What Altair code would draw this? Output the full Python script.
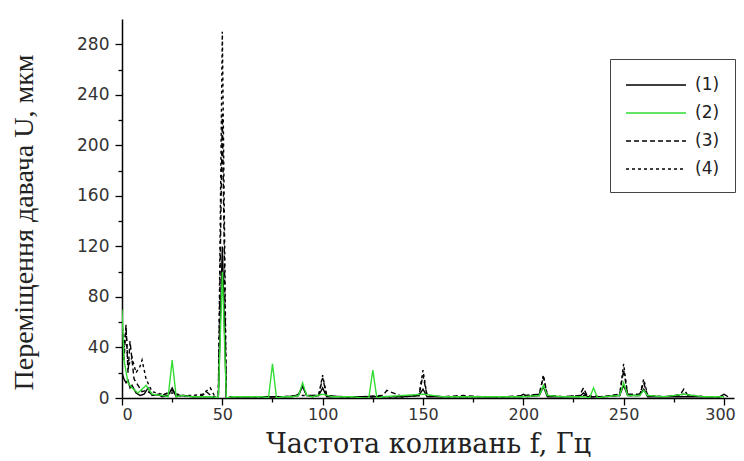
import altair as alt
import pandas as pd

series_names = ["(1)", "(2)", "(3)", "(4)"]

f1 = [0, 1, 2, 3, 4, 5, 7, 9, 11, 13, 15, 18, 20, 23, 25, 27, 30, 35, 40, 45, 48, 50, 52, 55, 60, 70, 80, 85, 88, 90,
      92, 95, 98, 100, 102, 105, 110, 120, 130, 140, 148, 150, 152, 160, 170, 180, 190, 198, 200, 202, 208, 210, 212,
      220, 228, 230, 232, 240, 248, 250, 252, 258, 260, 262, 270, 280, 290, 298, 300, 302]
u1 = [20, 15, 12, 14, 8, 10, 4, 2, 3, 8, 2, 3, 1, 2, 8, 1, 2, 1, 1, 1, 0, 120, 0, 1, 1, 1, 1, 1, 3, 9,
      2, 1, 2, 8, 1, 1, 1, 1, 1, 1, 2, 7, 1, 1, 1, 1, 1, 1, 3, 1, 2, 9, 1,
      1, 1, 4, 1, 1, 2, 10, 2, 2, 7, 1, 1, 1, 1, 1, 3, 1]

f2 = [0, 1, 3, 5, 8, 12, 15, 20, 23, 25, 27, 30, 35, 40, 45, 48, 50, 52, 55, 60, 65, 70, 73, 75, 77, 80, 85, 88, 90,
      92, 95, 100, 105, 110, 115, 120, 123, 125, 127, 130, 140, 150, 160, 170, 180, 190, 200, 208, 210, 212, 220, 230,
      233, 235, 237, 240, 248, 250, 252, 258, 260, 262, 270, 280, 290, 300]
u2 = [70, 30, 12, 8, 4, 10, 3, 2, 1, 30, 1, 2, 1, 1, 1, 0, 100, 0, 1, 1, 1, 1, 0, 27, 0, 1, 1, 2, 12,
      2, 1, 3, 1, 1, 1, 0, 0, 22, 0, 1, 2, 3, 1, 1, 1, 1, 1, 2, 10, 2, 1, 1,
      0, 8, 0, 1, 2, 12, 2, 2, 6, 2, 1, 3, 1, 1]

f3 = [0, 1, 2, 3, 4, 6, 8, 10, 12, 15, 20, 25, 28, 30, 35, 40, 42, 45, 48, 50, 52, 55, 60, 70, 80, 88, 90, 92, 98,
      100, 102, 110, 120, 130, 132, 140, 148, 150, 152, 160, 170, 180, 190, 200, 208, 210, 212, 220, 228, 230, 232,
      240, 248, 250, 252, 258, 260, 262, 270, 278, 280, 282, 290, 300]
u3 = [50, 30, 58, 20, 45, 15, 10, 5, 6, 3, 2, 6, 2, 2, 1, 2, 5, 1, 0, 225, 0, 1, 1, 1, 1, 2, 10, 2, 2,
      16, 2, 1, 1, 2, 6, 1, 2, 18, 2, 1, 2, 1, 1, 2, 3, 17, 2, 1, 2, 8, 1,
      1, 3, 22, 3, 3, 12, 2, 1, 2, 7, 2, 1, 1]

f4 = [0, 1, 2, 3, 5, 7, 9, 10, 12, 15, 20, 25, 30, 35, 40, 44, 46, 48, 50, 52, 55, 60, 70, 80, 90, 98, 100, 102, 110,
      120, 130, 140, 148, 150, 152, 160, 170, 180, 190, 200, 208, 210, 212, 220, 230, 240, 248, 250, 252, 258, 260,
      262, 270, 280, 290, 300]
u4 = [60, 40, 55, 25, 32, 20, 25, 30, 15, 5, 3, 4, 2, 2, 3, 8, 2, 0, 290, 0, 1, 1, 1, 1, 2, 2, 18, 2, 1,
      1, 1, 1, 2, 22, 2, 1, 1, 1, 1, 1, 3, 18, 2, 1, 2, 1, 2, 27, 2, 2, 15,
      2, 1, 3, 1, 1]

x_ticks = [0, 25, 50, 75, 100, 125, 150, 175, 200, 225, 250, 275, 300]
y_ticks = [0, 20, 40, 60, 80, 100, 120, 140, 160, 180, 200, 220, 240, 260, 280]

rows = []
for name, fs, us in [("(1)", f1, u1), ("(3)", f3, u3), ("(4)", f4, u4), ("(2)", f2, u2)]:
    for i, (f, u) in enumerate(zip(fs, us)):
        rows.append({"f": f, "u": u, "s": name, "i": i})
df = pd.DataFrame(rows)

legend = alt.Legend(title=None, orient="none", legendX=488, legendY=40,
                    symbolType="M-1,0H5", symbolSize=400, symbolStrokeWidth=1.4,
                    labelFont="DejaVu Sans", labelFontSize=17, labelColor="#222",
                    strokeColor="#444", padding=15, rowPadding=9, labelOffset=48)

chart = alt.Chart(df).mark_line(strokeWidth=1.4, clip=True).encode(
    x=alt.X("f:Q", scale=alt.Scale(domain=[0, 305], nice=False, zero=False),
            axis=alt.Axis(values=x_ticks, title="Частота коливань f, Гц",
                          labelExpr="datum.value % 50 === 0 ? datum.label : ''",
                          labelOffset={"condition": {"test": "datum.value === 300", "value": -4}, "value": 0},
                          tickSize={"condition": {"test": "datum.value % 50 === 0", "value": 7}, "value": 4},
                          labelPadding=1, labelFontSize=16, titleY=54, titleBaseline="alphabetic",
                          titleFont="DejaVu Serif", titleFontSize=27, titleFontWeight="normal")),
    y=alt.Y("u:Q", scale=alt.Scale(domain=[0, 300], nice=False),
            axis=alt.Axis(values=y_ticks, title="Переміщення давача U, мкм",
                          labelExpr="datum.value % 40 === 0 ? datum.label : ''",
                          tickSize={"condition": {"test": "datum.value % 40 === 0", "value": 7}, "value": 4},
                          labelPadding=6, titleX=-90, titleY=203, titleAngle=-90,
                          titleAlign="center", titleBaseline="alphabetic",
                          titleFont="Liberation Serif", titleFontSize=28, titleFontWeight="normal")),
    color=alt.Color("s:N", scale=alt.Scale(domain=series_names, range=["#000000", "#33dd33", "#000000", "#000000"]),
                    legend=legend),
    strokeDash=alt.StrokeDash("s:N", scale=alt.Scale(domain=series_names,
                                                     range=[[1, 0], [1, 0], [5, 3], [3, 3]]),
                              legend=legend),
    order=alt.Order("i:Q"),
).properties(
    width=612, height=379,
    autosize=alt.AutoSizeParams(type="none"),
    padding={"left": 114, "top": 11, "right": 2, "bottom": 61},
).configure_axis(
    domainColor="#000", domainWidth=1.5, tickColor="#000", tickWidth=1.3,
    labelFont="DejaVu Sans", labelFontSize=17, labelColor="#333", titleColor="#222",
    grid=False,
).configure_view(stroke=None)

chart.save("out.html", embed_options={"renderer": "svg", "actions": False})
